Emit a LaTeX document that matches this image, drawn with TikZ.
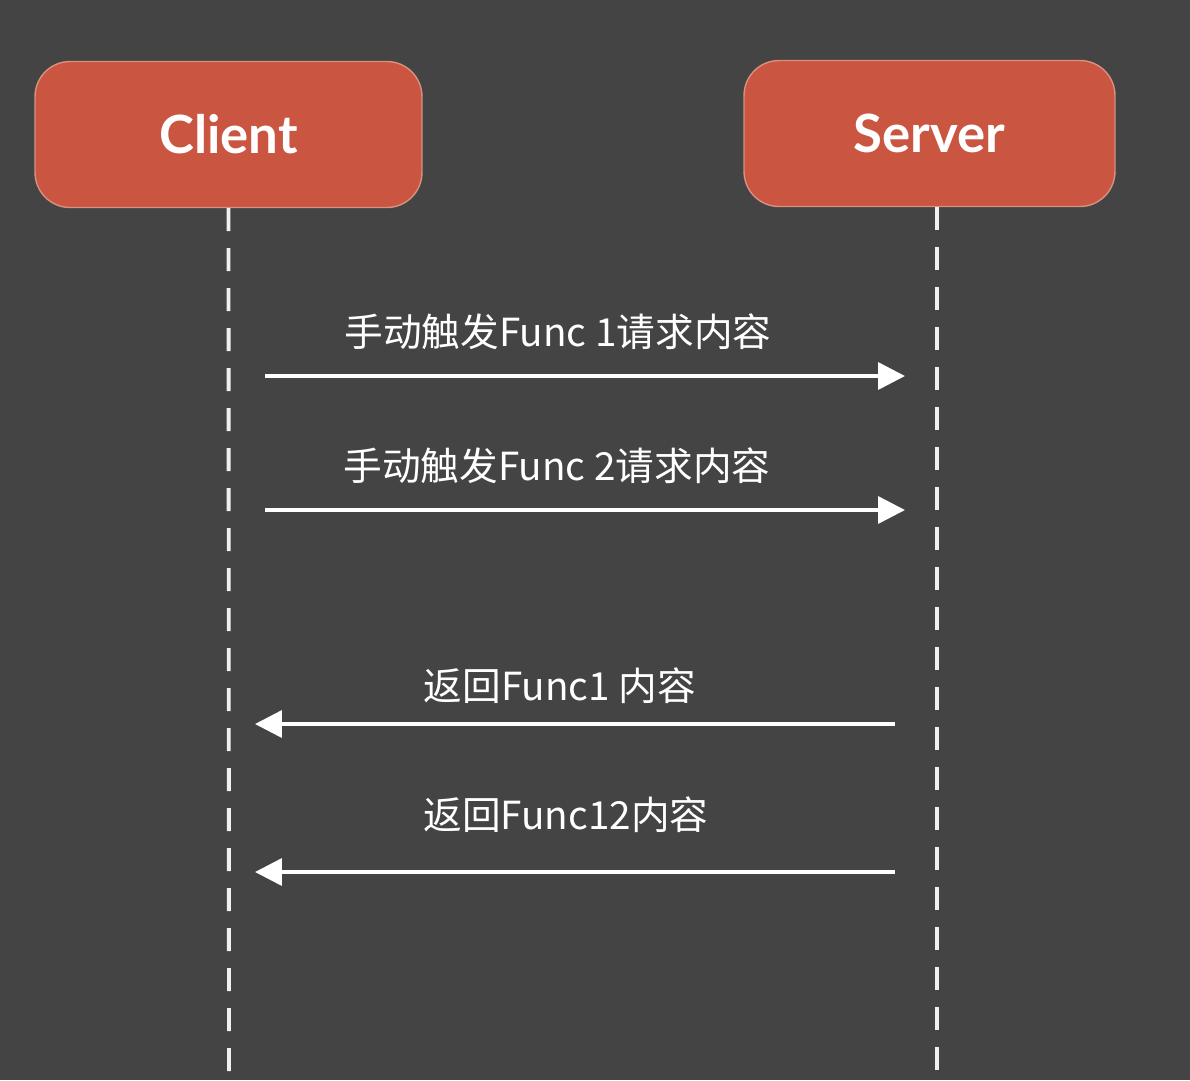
\documentclass[tikz,border=0pt]{standalone}
\usepackage{fontspec}
\setmainfont{Lato}
\newfontfamily\cjk{Noto Sans CJK SC}
\usetikzlibrary{arrows.meta}
\definecolor{bggray}{HTML}{444444}
\definecolor{boxred}{HTML}{CA5541}
\definecolor{boxedge}{HTML}{D9907F}

\begin{document}
\begin{tikzpicture}[x=0.02cm, y=-0.02cm, >={Triangle[length=0.54cm, width=0.54cm]},
  actor/.style={draw=boxedge, line width=0.8pt, fill=boxred, rounded corners=0.7cm,
    text=white, font=\bfseries\fontsize{30}{36}\selectfont, minimum height=2.92cm},
  lifeline/.style={white!88!gray, line width=2.2pt, dash pattern=on 0.46cm off 0.34cm},
  msg/.style={->, white, line width=2pt},
  msglabel/.style={text=white, font=\cjk\fontsize{22}{26}\selectfont, inner sep=0pt}]
  \fill[bggray] (0,0) rectangle (1190,1080);
  \useasboundingbox (0,0) rectangle (1190,1080);
  % actors
  \node[actor, minimum width=7.74cm] (client) at (228.5,134.5) {Client};
  \node[actor, minimum width=7.42cm] (server) at (929.5,133.5) {Server};
  % lifelines
  \coordinate (clientend) at (229,1080);
  \coordinate (serverend) at (937,1080);
  \draw[lifeline] (client.south) -- (clientend);
  \draw[lifeline] (server.south -| serverend) -- (serverend);
  % requests
  \coordinate (c1) at (265,376);
  \coordinate (s1) at (905,376);
  \coordinate (c2) at (265,510);
  \coordinate (s2) at (905,510);
  \draw[msg] (c1) -- (s1);
  \draw[msg] (c2) -- (s2);
  \node[msglabel] (req1) at (558,332) {手动触发Func 1请求内容};
  \node[msglabel] (req2) at (557,466) {手动触发Func 2请求内容};
  % responses
  \coordinate (s3) at (895,724);
  \coordinate (c3) at (255,724);
  \coordinate (s4) at (895,872);
  \coordinate (c4) at (255,872);
  \draw[msg] (s3) -- (c3);
  \draw[msg] (s4) -- (c4);
  \node[msglabel] (resp1) at (560,686) {返回Func1 内容};
  \node[msglabel] (resp2) at (566,815) {返回Func12内容};
\end{tikzpicture}
\end{document}
